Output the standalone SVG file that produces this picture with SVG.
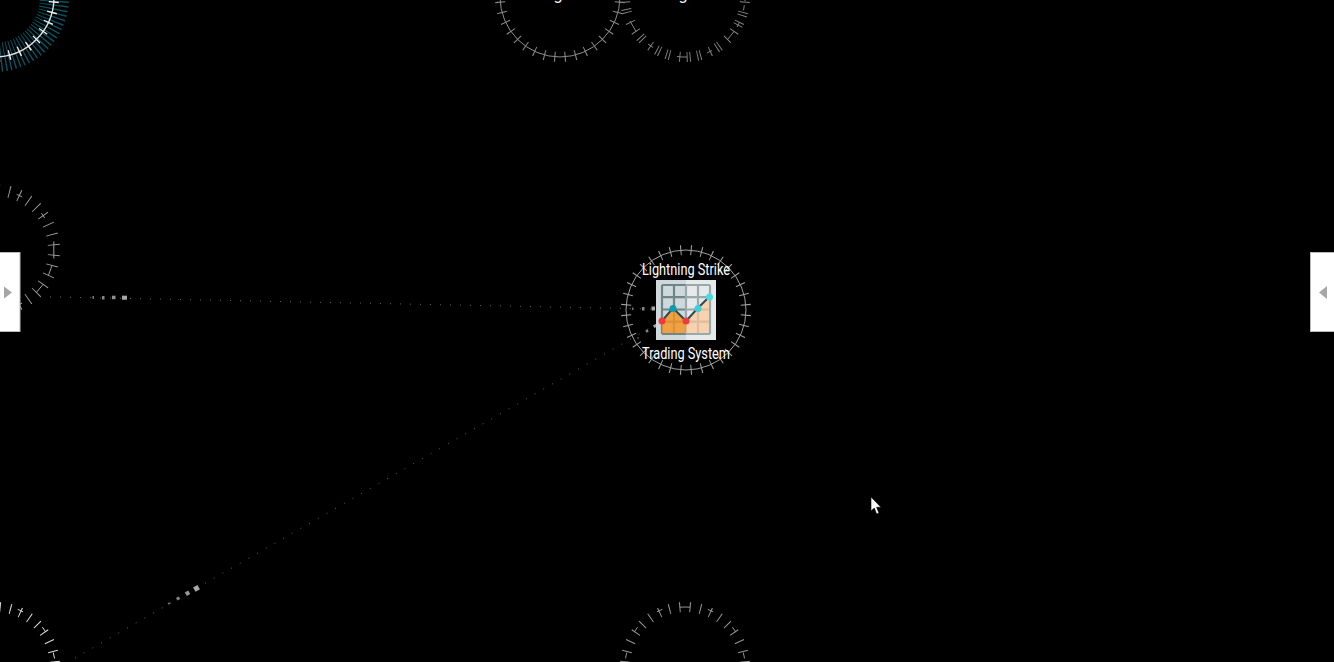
<svg xmlns="http://www.w3.org/2000/svg" xmlns:xlink="http://www.w3.org/1999/xlink" width="1334" height="662" viewBox="0 0 1334 662">
<style>
.ring{fill:none;stroke-width:1}
.tick{fill:none;stroke-width:10}
.long{fill:none;stroke-width:12}
.lbl{font-family:Roboto,"Liberation Sans",Arial,sans-serif;font-weight:400;font-size:16px;fill:#fff;text-anchor:middle}
.link{fill:none;stroke:#666;stroke-width:1;stroke-dasharray:1 9}
.dot{fill:#a8a8a8}
.panel{fill:#fff;stroke:#bbb;stroke-width:1}
.arrow{fill:#a6a6a6}
</style>
<defs>
<g id="solidRing">
<circle class="ring" r="60"/>
<circle class="tick" r="60" pathLength="360" stroke-dasharray="1 9" stroke-dashoffset="-4.5"/>
</g>
<g id="topArcRing">
<circle class="tick" r="60" pathLength="360" stroke-dasharray="1 9" stroke-dashoffset="-4.5"/>
<path class="ring" d="M-50.800-34.900-47.400-39.900M-28.100-55.100-22.700-57.700M22.700-57.700 28.100-55.100M47.400-39.900 50.800-34.900M58.300-14.400 59.500-8.600M-59.500-8.600-58.300-14.400M-5.200-59.800Q0-60.200 5.200-59.800"/>
</g>
<g id="chartIcon">
<rect x="656" y="280" width="30" height="60" fill="#cfd8dc"/>
<rect x="686" y="280" width="30" height="60" fill="#e6eaeb"/>
<path d="M662 285H686M662 297.200H686M662 309.500H686M662 321.700H686M662 334H686M662 285V334M674 285V334" fill="none" stroke="#6f8588" stroke-width="2.200"/>
<path d="M686 285H710M686 297.200H710M686 309.500H710M686 321.700H710M686 334H710M686 285V334M698 285V334M710 285V334" fill="none" stroke="#9aa9ab" stroke-width="2.200"/>
<path d="M662 321 673 308 686 321V333H662Z" fill="#f7931e" fill-opacity=".8"/>
<path d="M686 321 698 308 709 297V333H686Z" fill="#fdc795" fill-opacity=".68"/>
<path d="M662 321 673 308 686 321 698 308 709 297" fill="none" stroke="#2f4a52" stroke-width="2"/>
<circle cx="662" cy="321" r="3.500" fill="#f33a3a"/>
<circle cx="673" cy="308.500" r="3.500" fill="#0f9ab0"/>
<circle cx="686" cy="321" r="3.500" fill="#f33a3a"/>
<circle cx="698" cy="308.500" r="3.500" fill="#3fcfdc"/>
<circle cx="709.500" cy="297" r="3.500" fill="#4fd8e0"/>
</g>
</defs>
<rect width="1334" height="662" fill="#000"/>
<g id="connectors">
<path class="link" d="M40 296.700 653 309"/>
<rect class="dot" x="92.500" y="296" width="1.500" height="3" opacity=".7"/>
<rect class="dot" x="102" y="296" width="2.500" height="3.500" opacity=".8"/>
<rect class="dot" x="112" y="295.700" width="3.500" height="3.500" opacity=".85"/>
<rect class="dot" x="122" y="295.700" width="5" height="4"/>
<rect class="dot" x="632" y="307.500" width="1.500" height="2.500" opacity=".7"/>
<rect class="dot" x="642" y="307" width="2.500" height="3.500" opacity=".8"/>
<rect class="dot" x="651.500" y="306.500" width="3.500" height="4"/>
<path class="link" d="M75 658 655 325"/>
<rect class="dot" x="-1" y="-1" width="2" height="2" opacity=".7" transform="translate(169 603.500) rotate(-30)"/>
<rect class="dot" x="-1.500" y="-1.500" width="3" height="3" opacity=".8" transform="translate(178 598.500) rotate(-30)"/>
<rect class="dot" x="-2" y="-2" width="4" height="4" opacity=".9" transform="translate(187.500 593.300) rotate(-30)"/>
<rect class="dot" x="-2.500" y="-2.500" width="5" height="5" transform="translate(196.500 588.300) rotate(-30)"/>
<rect class="dot" x="-.7" y="-.7" width="1.400" height="1.400" opacity=".7" transform="translate(638 338)"/>
<rect class="dot" x="-1.300" y="-1.300" width="2.600" height="2.600" opacity=".8" transform="translate(647 331) rotate(-30)"/>
<rect class="dot" x="-1.500" y="-1.500" width="3" height="3" transform="translate(655 326) rotate(-30)"/>
</g>
<g id="node-top-left">
<circle r="60.500" cx="-6" cy="-3" pathLength="360" fill="none" stroke="#0b5563" stroke-width="29" stroke-dasharray="1.100 2.500"/>
<circle cx="-6" cy="-3" r="60" fill="none" stroke="#e0e0e0" stroke-width="1.400"/>
<circle cx="-6" cy="-3" r="60" fill="none" stroke="#f4f4f4" stroke-width="10" pathLength="360" stroke-dasharray="1.300 8.700" stroke-dashoffset="-4.350"/>
</g>
<g id="node-top-1">
<use xlink:href="#solidRing" href="#solidRing" transform="translate(560 -3)" stroke="#8c8c8c"/>
<text class="lbl" x="558" y="0">g</text>
</g>
<g id="node-top-2" transform="translate(685 -3)" stroke="#858585">
<circle class="tick" r="60" pathLength="360" stroke-dasharray=".9 9.100" stroke-dashoffset="-4.550"/>
<circle class="tick" r="60" pathLength="360" stroke-dasharray="0.9 9.1 0.9 29.1 0.9 19.1 0.9 9.1 0.9 19.1 0.9 9.1 0.9 19.1 0.9 29.1 0.9 9.1 0.9 199.1" stroke-dashoffset="-17.450"/>
<path class="ring" d="M58.500 13.400 59.300 8.300M60 4 59.800-1M54.400 25.400 52 30M49 34.500 42.500 42.500M27 53.500 22 56M2 60-3 60-8 59.500M-32 50.500-37 47M-49 34.500-55 24"/>
<text class="lbl" x="-2" y="3" stroke="none">g</text>
</g>
<g id="node-left" transform="translate(-6 250)" stroke="#a0a0a0">
<circle class="long" r="60" pathLength="360" stroke-dasharray=".9 9.100" stroke-dashoffset="-4.550"/>
<path class="ring" d="M22.700-55.700 28.100-53.100M47.400-36.900 50.800-31.900M59.800-8.500V8.500M58 15.500 54.400 25.400M49.100 34.400 42.400 42.400M28.100 53.100 22.700 55.700"/>
</g>
<g id="node-bottom-left">
<use xlink:href="#topArcRing" href="#topArcRing" transform="translate(-5 667)" stroke="#dcdcdc"/>
</g>
<g id="node-bottom-center">
<use xlink:href="#topArcRing" href="#topArcRing" transform="translate(685 667)" stroke="#959595"/>
</g>
<g id="node-trading-system">
<use xlink:href="#solidRing" href="#solidRing" transform="translate(686 310)" stroke="#a0a0a0"/>
<use xlink:href="#chartIcon" href="#chartIcon"/>
<text class="lbl" x="686" y="275" textLength="88" lengthAdjust="spacingAndGlyphs">Lightning Strike</text>
<text class="lbl" x="686" y="359" textLength="88" lengthAdjust="spacingAndGlyphs">Trading System</text>
</g>
<g id="panel-left">
<rect class="panel" x="-2" y="252.500" width="22" height="79"/>
<path class="arrow" d="M4 286.500 12 292.500 4 298.500Z"/>
</g>
<g id="panel-right">
<rect class="panel" x="1310.500" y="252.500" width="26" height="79"/>
<path class="arrow" d="M1327 286 1319 292.500 1327 299Z"/>
</g>
<g id="cursor">
<path d="M871 497V511L874.300 508 876.600 514 879 513 876.600 507.300H881Z" fill="#fff" stroke="#000" stroke-width=".6"/>
</g>
</svg>
